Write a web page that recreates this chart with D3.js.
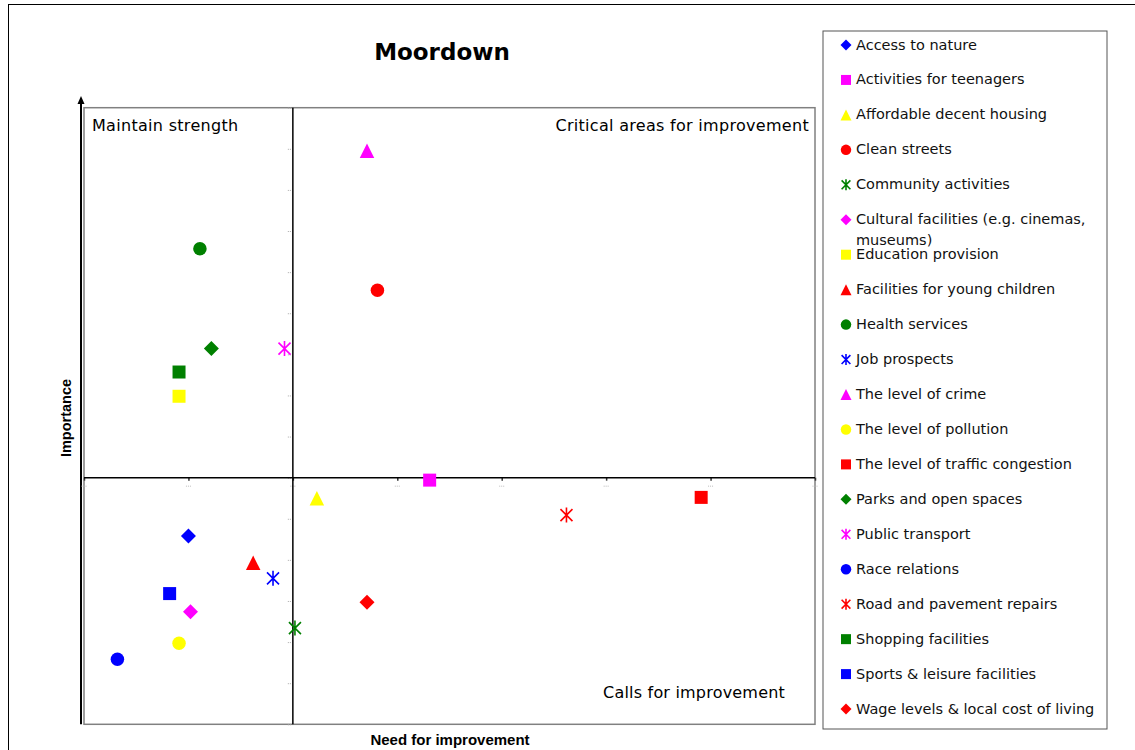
<!DOCTYPE html>
<html>
<head>
<meta charset="utf-8">
<script src="https://cdn.jsdelivr.net/npm/d3@7"></script>
<style>
  body { margin: 0; background: #fff; }
  svg { display: block; font-family: "DejaVu Sans", sans-serif; }
</style>
</head>
<body>
<svg id="chart" width="1135" height="750"></svg>
<script>
const width = 1135;
const height = 750;

// series, in legend order
const names = [
  "Access to nature", "Activities for teenagers", "Affordable decent housing",
  "Clean streets", "Community activities", "Cultural facilities (e.g. cinemas, museums)",
  "Education provision", "Facilities for young children", "Health services",
  "Job prospects", "The level of crime", "The level of pollution",
  "The level of traffic congestion", "Parks and open spaces", "Public transport",
  "Race relations", "Road and pavement repairs", "Shopping facilities",
  "Sports & leisure facilities", "Wage levels & local cost of living"
];
const shapes = [
  "diamond", "square", "triangle", "circle", "asterisk", "diamond", "square",
  "triangle", "circle", "asterisk", "triangle", "circle", "square", "diamond",
  "asterisk", "circle", "asterisk", "square", "square", "diamond"
];
const colors = [
  "#0000FF", "#FF00FF", "#FFFF00", "#FF0000", "#008000", "#FF00FF", "#FFFF00",
  "#FF0000", "#008000", "#0000FF", "#FF00FF", "#FFFF00", "#FF0000", "#008000",
  "#FF00FF", "#0000FF", "#FF0000", "#008000", "#0000FF", "#FF0000"
];
// need for improvement (x) and importance (y)
const needValues = [
  1.00, 3.31, 2.23, 2.81, 2.02, 1.02, 0.91, 1.62, 1.11, 1.81,
  2.71, 0.91, 5.91, 1.22, 1.92, 0.32, 4.62, 0.91, 0.82, 2.71
];
const importanceValues = [
  4.58, 5.94, 5.50, 10.56, 2.34, 2.74, 7.98, 3.93, 11.57, 3.55,
  13.95, 1.97, 5.52, 9.14, 9.14, 1.58, 5.09, 8.57, 3.18, 2.97
];
const xDomain = [0, 7];
const yDomain = [0, 15];
const xCross = 2;   // where the vertical divider sits
const yCross = 6;   // where the horizontal divider sits
const quadrantLabels = ["Maintain strength", "Critical areas for improvement", "Calls for improvement"];

const svg = d3.select("#chart");

const plot = {left: 84, right: 815, top: 107.7, bottom: 724.3};
const x = d3.scaleLinear().domain(xDomain).range([plot.left, plot.right]);
const y = d3.scaleLinear().domain(yDomain).range([plot.bottom, plot.top]);

// chart area border (cut off by the picture edge)
svg.append("rect")
  .attr("x", 8.5).attr("y", 4.5)
  .attr("width", width).attr("height", height)
  .attr("fill", "none").attr("stroke", "#000").attr("stroke-width", 1);

// plot area box
svg.append("rect")
  .attr("x", plot.left).attr("y", plot.top)
  .attr("width", plot.right - plot.left).attr("height", plot.bottom - plot.top)
  .attr("fill", "none").attr("stroke", "#808080").attr("stroke-width", 1.5);

// importance arrow on the left
svg.append("line")
  .attr("x1", 81).attr("x2", 81)
  .attr("y1", plot.bottom).attr("y2", 101)
  .attr("stroke", "#000").attr("stroke-width", 2);
svg.append("path")
  .attr("d", "M81,96 L84.5,104 L77.5,104 Z")
  .attr("fill", "#000");

// tick marks on the dividers
const yAxis = d3.axisLeft(y).ticks(15).tickSize(4).tickFormat("");
const gy = svg.append("g")
  .attr("transform", `translate(${x(xCross) - 2},0)`)
  .call(yAxis);
gy.select(".domain").remove();
gy.selectAll(".tick line").attr("stroke", "#aaa").attr("stroke-dasharray", "1,1");

const xAxis = d3.axisBottom(x).ticks(7).tickSize(3).tickFormat("");
const gx = svg.append("g")
  .attr("transform", `translate(0,${y(yCross)})`)
  .call(xAxis);
gx.select(".domain").remove();
gx.selectAll(".tick line").attr("stroke", "#333").attr("stroke-width", 1.5);
gx.selectAll(".tick").append("line")
  .attr("x1", -3).attr("x2", 3).attr("y1", 8.5).attr("y2", 8.5)
  .attr("stroke", "#bbb").attr("stroke-dasharray", "1,1");

// dividers
svg.append("line")
  .attr("x1", x(xCross)).attr("x2", x(xCross))
  .attr("y1", plot.top).attr("y2", plot.bottom)
  .attr("stroke", "#000").attr("stroke-width", 1.5);
svg.append("line")
  .attr("x1", plot.left).attr("x2", plot.right)
  .attr("y1", y(yCross)).attr("y2", y(yCross))
  .attr("stroke", "#000").attr("stroke-width", 1.5);

// title and labels
svg.append("text")
  .attr("x", 442).attr("y", 52)
  .attr("text-anchor", "middle").attr("dominant-baseline", "central")
  .attr("font-size", 23).attr("font-weight", "bold")
  .text("Moordown");

svg.append("text")
  .attr("x", 92).attr("y", 125)
  .attr("dominant-baseline", "central").attr("font-size", 16)
  .attr("letter-spacing", 0.3)
  .text(quadrantLabels[0]);
svg.append("text")
  .attr("x", 809).attr("y", 125)
  .attr("text-anchor", "end").attr("dominant-baseline", "central").attr("font-size", 16)
  .attr("letter-spacing", 0.3)
  .text(quadrantLabels[1]);
svg.append("text")
  .attr("x", 785).attr("y", 692)
  .attr("text-anchor", "end").attr("dominant-baseline", "central").attr("font-size", 16)
  .attr("letter-spacing", 0.2)
  .text(quadrantLabels[2]);

svg.append("text")
  .attr("transform", "translate(66,418) rotate(-90)")
  .attr("text-anchor", "middle").attr("dominant-baseline", "central")
  .attr("font-family", "Liberation Sans, Arial, sans-serif")
  .attr("font-size", 14.5).attr("font-weight", "bold")
  .text("Importance");
svg.append("text")
  .attr("x", 450).attr("y", 739)
  .attr("text-anchor", "middle").attr("dominant-baseline", "central")
  .attr("font-family", "Liberation Sans, Arial, sans-serif")
  .attr("font-size", 15).attr("font-weight", "bold")
  .text("Need for improvement");

// marker drawing
function markerPath(shape, s) {
  const h = s / 2;
  if (shape === "diamond") return `M0,${-h}L${h},0L0,${h}L${-h},0Z`;
  if (shape === "square") return `M${-h},${-h}H${h}V${h}H${-h}Z`;
  if (shape === "triangle") return `M0,${-h}L${h},${h}H${-h}Z`;
  if (shape === "circle") return d3.arc()({innerRadius: 0, outerRadius: h, startAngle: 0, endAngle: 2 * Math.PI});
  const d = h * 0.8;
  return `M0,${-h}V${h}M${-d},${-d}L${d},${d}M${-d},${d}L${d},${-d}`;
}

function drawMarker(g, shape, color, size) {
  const p = g.append("path").attr("d", markerPath(shape, size));
  if (shape === "asterisk") {
    p.attr("fill", "none").attr("stroke", color).attr("stroke-width", 1.6);
  } else {
    p.attr("fill", color);
  }
}

const sizes = {diamond: 15, square: 13, triangle: 14.5, circle: 13.5, asterisk: 15};

names.forEach(function (name, i) {
  const g = svg.append("g")
    .attr("transform", `translate(${x(needValues[i])},${y(importanceValues[i])})`);
  drawMarker(g, shapes[i], colors[i], sizes[shapes[i]]);
});

// legend
const legend = svg.append("g");
legend.append("rect")
  .attr("x", 823).attr("y", 31)
  .attr("width", 284).attr("height", 698)
  .attr("fill", "#fff").attr("stroke", "#555").attr("stroke-width", 1);

const legendSizes = {diamond: 11, square: 10, triangle: 11, circle: 10.5, asterisk: 11};
names.forEach(function (name, i) {
  const cy = 44.5 + i * 34.95;
  const g = legend.append("g").attr("transform", `translate(846,${cy + 0.5})`);
  drawMarker(g, shapes[i], colors[i], legendSizes[shapes[i]]);
  const t = legend.append("text")
    .attr("x", 856).attr("y", cy)
    .attr("dominant-baseline", "central")
    .attr("font-size", 14.5).attr("fill", "#111");
  if (name.indexOf("(e.g.") >= 0) {
    t.append("tspan").text("Cultural facilities (e.g. cinemas,");
    t.append("tspan").attr("x", 856).attr("dy", 21).text("museums)");
  } else {
    t.text(name);
  }
});
</script>
</body>
</html>
